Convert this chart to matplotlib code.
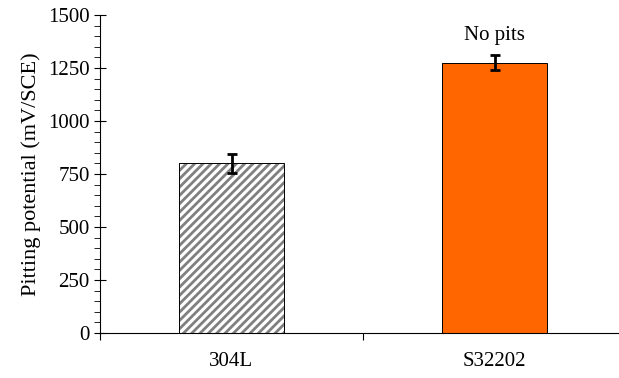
import matplotlib
matplotlib.use("Agg")
import matplotlib.pyplot as plt
from matplotlib.ticker import MultipleLocator

plt.rcParams["font.family"] = ["Liberation Serif", "DejaVu Serif"]
plt.rcParams["hatch.linewidth"] = 2.0

alloys = ["304L", "S32202"]
pitting_mv = [800, 1275]
pitting_err = [45, 35]
notes = ["", "No pits"]

fig = plt.figure(figsize=(6.19, 3.78), dpi=100)
ax = fig.add_axes([100 / 619, 1 - 333 / 378, 526 / 619, 318 / 378])

xs = range(len(alloys))
styles = [dict(facecolor="white", hatch="////", edgecolor="#808080"),
          dict(facecolor="#ff6600", edgecolor="black")]
for x, v, e, st in zip(xs, pitting_mv, pitting_err, styles):
    ax.bar(x, v, width=0.40, linewidth=0, zorder=2, **st)
    ax.bar(x, v, width=0.40, facecolor="none", edgecolor="black",
           linewidth=0.7, zorder=3)
    ax.errorbar(x, v, yerr=e, fmt="none", ecolor="black", elinewidth=2,
                capsize=3.5, capthick=2, zorder=4)
for x, v, e, t in zip(xs, pitting_mv, pitting_err, notes):
    if t:
        ax.text(x, v + e + 50, t, ha="center", va="bottom", fontsize=15)

ax.set_xlim(-0.5, 1.5)
ax.set_ylim(0, 1500)
ax.set_xticks([-0.5, 0.5, 1.5])
ax.set_xticklabels([])
ax.set_xticks(list(xs), minor=True)
ax.set_xticklabels(alloys, minor=True, fontsize=15)
ax.tick_params(axis="x", which="minor", length=0, pad=14)
ax.tick_params(axis="x", which="major", direction="out", length=5)
ax.yaxis.set_major_locator(MultipleLocator(250))
ax.yaxis.set_minor_locator(MultipleLocator(50))
ax.tick_params(axis="y", which="major", direction="inout", length=8, labelsize=15)
ax.tick_params(axis="y", which="minor", direction="out", length=4)
ax.set_ylabel("Pitting potential (mV/SCE)", fontsize=16, labelpad=5)
for s in ("top", "right"):
    ax.spines[s].set_visible(False)

fig.savefig("out.png", dpi=100)
